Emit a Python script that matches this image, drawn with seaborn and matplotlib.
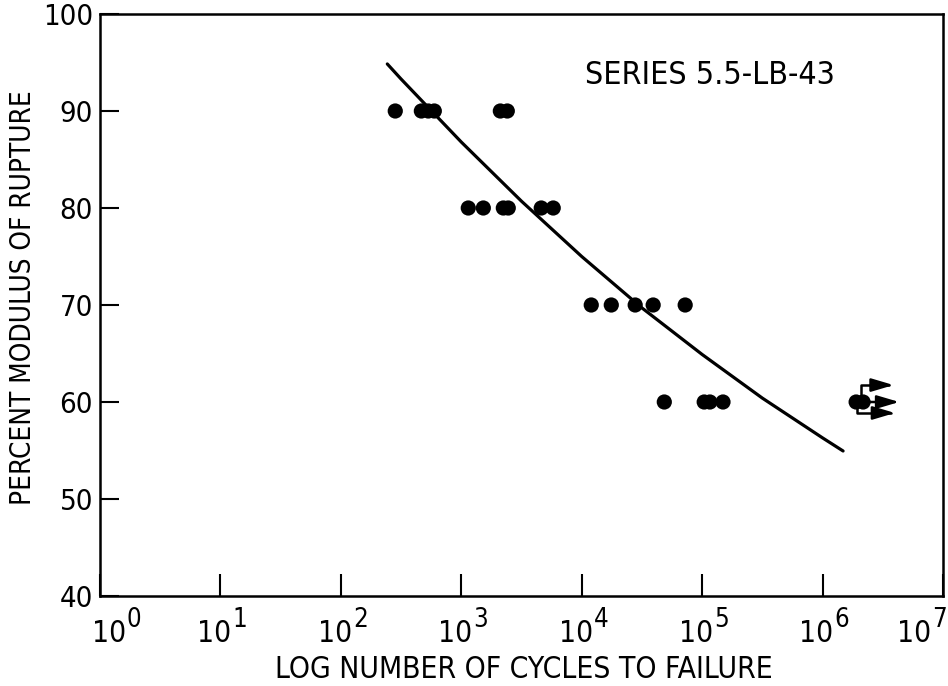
import matplotlib
matplotlib.use("Agg")
import matplotlib.pyplot as plt
import matplotlib.transforms as mtrans
import seaborn as sns
import pandas as pd
from matplotlib.transforms import ScaledTranslation

# ---- data ----
cycles_90 = [283, 466, 532, 597, 2110, 2410]
cycles_80 = [1143, 1524, 2234, 2455, 4613, 5800]
cycles_70 = [12000, 17600, 27800, 39200, 72300]
cycles_60 = [48500, 104000, 116000, 149000]
runout_cycles = [1.90e6, 2.17e6]
runout_level = 60

curve_cycles = [243, 316, 1000, 3162, 10000, 31620, 100000, 316200, 1000000, 1480000]
curve_percent = [94.85, 93.3, 86.8, 80.7, 75.0, 69.7, 64.9, 60.4, 56.3, 54.95]

x_tick_exps = [0, 1, 2, 3, 4, 5, 6, 7]
y_ticks = [40, 50, 60, 70, 80, 90, 100]

series_label = "SERIES 5.5-LB-43"
x_label = "LOG NUMBER OF CYCLES TO FAILURE"
y_label = "PERCENT MODULUS OF RUPTURE"

pts = pd.DataFrame({
    "cycles": cycles_90 + cycles_80 + cycles_70 + cycles_60 + runout_cycles,
    "percent": [90] * len(cycles_90) + [80] * len(cycles_80) + [70] * len(cycles_70)
               + [60] * len(cycles_60) + [runout_level] * len(runout_cycles),
})
curve = pd.DataFrame({"cycles": curve_cycles, "percent": curve_percent})

sns.set_theme(style="white")
plt.rcParams["font.family"] = ["DejaVu Sans"]
plt.rcParams["font.stretch"] = "condensed"

fig = plt.figure(figsize=(9.48, 6.86), dpi=100)
ax = fig.add_axes([100 / 948, 1 - 596 / 686, 843 / 948, 582 / 686])

sns.lineplot(data=curve, x="cycles", y="percent", sort=False, color="black",
             linewidth=2.3, ax=ax)
sns.scatterplot(data=pts, x="cycles", y="percent", color="black", s=120,
                edgecolor="none", ax=ax, zorder=3)

ax.set_xscale("log")
ax.set_xlim(1, 1e7)
ax.set_ylim(40, 100)

ax.set_xticks([10.0 ** e for e in x_tick_exps])
ax.set_xticklabels(["" for e in x_tick_exps])
ax.xaxis.set_minor_locator(matplotlib.ticker.NullLocator())
ax.set_yticks(y_ticks)
ax.set_yticklabels([str(v) for v in y_ticks])

ax.tick_params(axis="x", direction="in", length=16, width=1.5, pad=7,
               labelsize=22, colors="black", bottom=True)
ax.tick_params(axis="y", direction="in", length=14, width=1.5, pad=5,
               labelsize=21, colors="black", left=True)

# "10" + large superscript exponent, as in the reference
blend = mtrans.blended_transform_factory(ax.transData, ax.transAxes)


def xoff(dx_px, dy_px):
    return blend + ScaledTranslation(dx_px / 100, dy_px / 100, fig.dpi_scale_trans)


n = len(x_tick_exps)
for i, e in enumerate(x_tick_exps):
    if i == 0:
        shift = 15
    elif i == n - 1:
        shift = -23
    else:
        shift = 0
    ax.text(10.0 ** e, 0, "10", transform=xoff(11 + shift, -23), ha="right",
            va="top", fontsize=21.5, color="black")
    ax.text(10.0 ** e, 0, str(e), transform=xoff(12 + shift, -11), ha="left",
            va="top", fontsize=18.5, color="black")

for s in ax.spines.values():
    s.set_visible(True)
    s.set_color("black")
    s.set_linewidth(1.8)

ax.set_xlabel(x_label, fontsize=21.5, color="black", va="center")
ax.xaxis.set_label_coords(0.503, -(670 - 596) / 582)
ax.set_ylabel(y_label, fontsize=20, color="black", va="center")
ax.yaxis.set_label_coords(-(100 - 23) / 843, 0.512)

ax.text(0.575, 0.895, series_label, transform=ax.transAxes, fontsize=23,
        color="black", ha="left", va="center")

# run-out arrows on the run-out point
rx = runout_cycles[-1] / 1.04
ry = runout_level


def off(dx, dy):
    return ax.transData + ScaledTranslation(dx / 72, dy / 72, fig.dpi_scale_trans)


arrow_kw = dict(arrowstyle="-|>,head_length=1.35,head_width=0.4", shrinkA=0,
                shrinkB=0, lw=1.8, color="black", mutation_scale=10)
ax.annotate("", xy=(rx, ry), xycoords=off(23.5, 12.2), xytext=(rx, ry),
            textcoords=off(0, 0),
            arrowprops=dict(connectionstyle="angle,angleA=90,angleB=0,rad=0", **arrow_kw))
ax.annotate("", xy=(rx, ry), xycoords=off(27.5, 0), xytext=(rx, ry),
            textcoords=off(4, 0), arrowprops=dict(**arrow_kw))
ax.annotate("", xy=(rx, ry), xycoords=off(24.5, -7.9), xytext=(rx, ry),
            textcoords=off(-3, 0),
            arrowprops=dict(connectionstyle="angle,angleA=90,angleB=0,rad=0", **arrow_kw))

fig.savefig("out.png", dpi=100, facecolor="white")
